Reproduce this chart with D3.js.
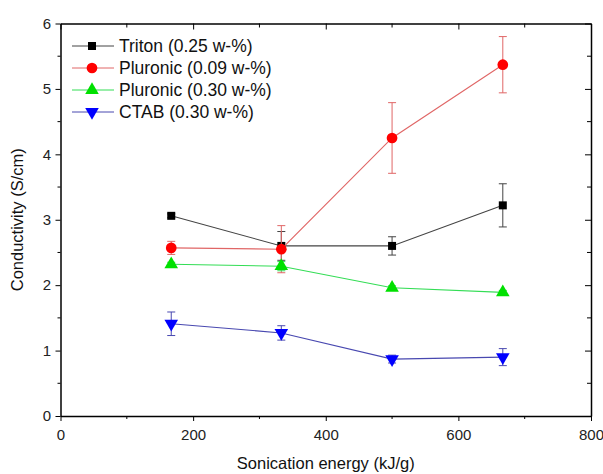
<!DOCTYPE html>
<html>
<head>
<meta charset="utf-8">
<script src="https://cdn.jsdelivr.net/npm/d3@7"></script>
<style>
  body { margin: 0; background: #fff; }
  svg { font-family: "Liberation Sans", Arial, sans-serif; }
</style>
</head>
<body>
<svg id="chart"></svg>
<script>
// dados
const energy = [167, 333, 500, 667]
const seriesNames = ["Triton (0.25 w-%)", "Pluronic (0.09 w-%)", "Pluronic (0.30 w-%)", "CTAB (0.30 w-%)"]
const tritonVals = [3.06, 2.60, 2.60, 3.22]
const tritonErr = [0.03, 0.22, 0.14, 0.33]
const pluronic09Vals = [2.57, 2.55, 4.25, 5.37]
const pluronic09Err = [0.10, 0.36, 0.54, 0.43]
const pluronic30Vals = [2.32, 2.29, 1.96, 1.89]
const pluronic30Err = [0.03, 0.07, 0.03, 0.03]
const ctabVals = [1.41, 1.27, 0.87, 0.90]
const ctabErr = [0.18, 0.11, 0.06, 0.13]
const xTicks = [0, 200, 400, 600, 800]
const yTicks = [0, 1, 2, 3, 4, 5, 6]

const width = 603
const height = 474
const margin = { top: 23.5, right: 12, bottom: 58, left: 60.5 }

const svg = d3.select("#chart")
    .attr("width", width)
    .attr("height", height)

const x = d3.scaleLinear().domain([0, 800]).range([margin.left, width - margin.right])
const y = d3.scaleLinear().domain([0, 6]).range([height - margin.bottom, margin.top])

const series = [
    { name: seriesNames[0], vals: tritonVals, err: tritonErr, line: "#444", fill: "#000", shape: d3.symbolSquare, size: 64, rot: 0 },
    { name: seriesNames[1], vals: pluronic09Vals, err: pluronic09Err, line: "#e06666", fill: "#ff0000", shape: d3.symbolCircle, size: 90, rot: 0 },
    { name: seriesNames[2], vals: pluronic30Vals, err: pluronic30Err, line: "#33dd55", fill: "#00e000", shape: d3.symbolTriangle, size: 80, rot: 0 },
    { name: seriesNames[3], vals: ctabVals, err: ctabErr, line: "#4848b0", fill: "#0000ff", shape: d3.symbolTriangle, size: 80, rot: 180 }
]

// eixos
const axisBottom = svg.append("g")
    .attr("transform", `translate(0,${y(0)})`)
    .call(d3.axisBottom(x).tickValues(xTicks).tickSize(5).tickSizeOuter(0).tickFormat(d3.format("d")))
const axisLeft = svg.append("g")
    .attr("transform", `translate(${x(0)},0)`)
    .call(d3.axisLeft(y).tickValues(yTicks).tickSize(5).tickSizeOuter(0).tickFormat(d3.format("d")))
const axisTop = svg.append("g")
    .attr("transform", `translate(0,${y(6)})`)
    .call(d3.axisTop(x).tickValues(xTicks).tickSize(-6).tickSizeOuter(0).tickFormat(""))
const axisRight = svg.append("g")
    .attr("transform", `translate(${x(800)},0)`)
    .call(d3.axisRight(y).tickValues(yTicks).tickSize(-6).tickSizeOuter(0).tickFormat(""))

// minor ticks
const xMinor = d3.range(100, 800, 200)
const yMinor = d3.range(0.5, 6, 1)
svg.append("g").selectAll("line").data(xMinor).enter().append("line")
    .attr("x1", d => x(d)).attr("x2", d => x(d))
    .attr("y1", y(0)).attr("y2", y(0) + 3)
    .attr("stroke", "#000")
svg.append("g").selectAll("line").data(xMinor).enter().append("line")
    .attr("x1", d => x(d)).attr("x2", d => x(d))
    .attr("y1", y(6)).attr("y2", y(6) + 4)
    .attr("stroke", "#000")
svg.append("g").selectAll("line").data(yMinor).enter().append("line")
    .attr("x1", x(0) - 3).attr("x2", x(0))
    .attr("y1", d => y(d)).attr("y2", d => y(d))
    .attr("stroke", "#000")
svg.append("g").selectAll("line").data(yMinor).enter().append("line")
    .attr("x1", x(800) - 4).attr("x2", x(800))
    .attr("y1", d => y(d)).attr("y2", d => y(d))
    .attr("stroke", "#000")

;[axisBottom, axisLeft, axisTop, axisRight].forEach(a => {
    a.select(".domain").attr("stroke", "#000").attr("stroke-width", 1.5)
    a.selectAll(".tick line").attr("stroke", "#000")
    a.selectAll("text").attr("font-size", 15).attr("fill", "#222")
        .attr("font-family", "Liberation Sans, Arial, sans-serif")
})
axisBottom.selectAll("text").attr("dy", "1.05em")
axisLeft.selectAll("text").attr("dx", "-0.1em")

// títulos dos eixos
svg.append("text")
    .attr("x", (x(0) + x(800)) / 2)
    .attr("y", 469)
    .attr("text-anchor", "middle")
    .attr("font-size", 16.5)
    .attr("fill", "#111")
    .text("Sonication energy (kJ/g)")

svg.append("text")
    .attr("transform", `translate(23,${(y(0) + y(6)) / 2}) rotate(-90)`)
    .attr("text-anchor", "middle")
    .attr("font-size", 16.5)
    .attr("fill", "#111")
    .text("Conductivity (S/cm)")

// séries
const lineGen = d3.line().x(d => x(d[0])).y(d => y(d[1]))

series.forEach(s => {
    const pts = energy.map((e, i) => [e, s.vals[i], s.err[i]])
    const g = svg.append("g")

    g.append("path")
        .attr("d", lineGen(pts))
        .attr("fill", "none")
        .attr("stroke", s.line)
        .attr("stroke-width", 1.1)

    const eb = g.selectAll(".eb").data(pts).enter().append("g")
    eb.append("line")
        .attr("x1", d => x(d[0])).attr("x2", d => x(d[0]))
        .attr("y1", d => y(d[1] - d[2])).attr("y2", d => y(d[1] + d[2]))
        .attr("stroke", s.line)
    eb.append("line")
        .attr("x1", d => x(d[0]) - 4).attr("x2", d => x(d[0]) + 4)
        .attr("y1", d => y(d[1] + d[2])).attr("y2", d => y(d[1] + d[2]))
        .attr("stroke", s.line)
    eb.append("line")
        .attr("x1", d => x(d[0]) - 4).attr("x2", d => x(d[0]) + 4)
        .attr("y1", d => y(d[1] - d[2])).attr("y2", d => y(d[1] - d[2]))
        .attr("stroke", s.line)

    g.selectAll(".pt").data(pts).enter().append("path")
        .attr("d", d3.symbol().type(s.shape).size(s.size))
        .attr("transform", d => `translate(${x(d[0])},${y(d[1])}) rotate(${s.rot})`)
        .attr("fill", s.fill)
})

// legenda
const legend = svg.append("g")
const legRows = [46, 68, 90, 112]
series.forEach((s, i) => {
    const row = legend.append("g").attr("transform", `translate(0,${legRows[i]})`)
    row.append("line")
        .attr("x1", 72).attr("x2", 114)
        .attr("y1", 0).attr("y2", 0)
        .attr("stroke", s.line)
    row.append("path")
        .attr("d", d3.symbol().type(s.shape).size(s.size))
        .attr("transform", `translate(92,0) rotate(${s.rot})`)
        .attr("fill", s.fill)
    row.append("text")
        .attr("x", 119)
        .attr("y", 0)
        .attr("dy", "0.36em")
        .attr("font-size", 17.5)
        .attr("fill", "#111")
        .text(s.name)
})
</script>
</body>
</html>
